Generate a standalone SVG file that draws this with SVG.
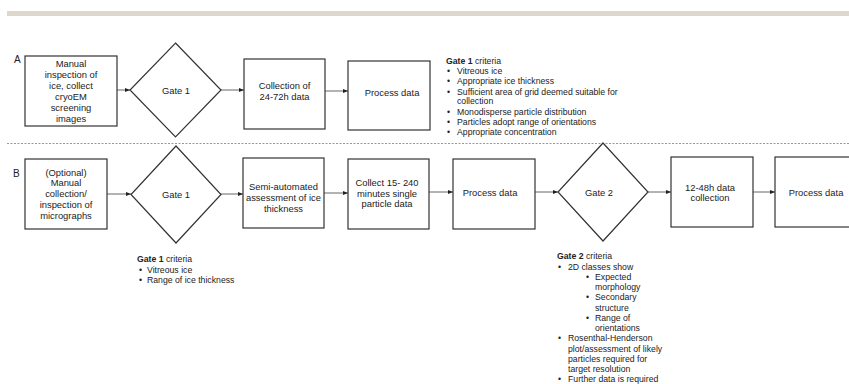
<svg xmlns="http://www.w3.org/2000/svg" width="849" height="384" viewBox="0 0 849 384">
<defs>
<marker id="ah" viewBox="0 0 6 6" refX="6" refY="3" markerWidth="5.5" markerHeight="5.5" markerUnits="userSpaceOnUse" orient="auto">
<path d="M0,0.5 L6,3 L0,5.5 Z" fill="#222"/>
</marker>
</defs>
<style>
text{font-family:"Liberation Sans",Arial,sans-serif;fill:#222}
.n{fill:#fff;stroke:#333;stroke-width:1.2}
.t{font-size:9.4px;text-anchor:middle}
.c{font-size:8.7px}
.b{font-weight:bold}
.e{stroke:#666;stroke-width:1;fill:none;marker-end:url(#ah)}
.lbl{font-size:10px}
</style>
<rect x="7" y="11" width="842" height="5" fill="#ddd8cb"/>
<line x1="7" y1="143.5" x2="849" y2="143.5" stroke="#999" stroke-width="1" stroke-dasharray="2,1.5"/>
<text class="lbl" x="14" y="63">A</text>
<text class="lbl" x="13" y="177">B</text>

<g id="connectors">
<line class="e" x1="117" y1="90" x2="130" y2="90"/>
<line class="e" x1="221" y1="90" x2="244" y2="90"/>
<line class="e" x1="325" y1="91" x2="348" y2="91"/>
<line class="e" x1="107" y1="194" x2="131" y2="194"/>
<line class="e" x1="221" y1="194" x2="243" y2="194"/>
<line class="e" x1="324" y1="193" x2="348" y2="193"/>
<line class="e" x1="429" y1="192" x2="453" y2="192"/>
<line class="e" x1="535" y1="192" x2="558" y2="192"/>
<line class="e" x1="648" y1="192" x2="671" y2="192"/>
<line class="e" x1="753" y1="192" x2="775" y2="192"/>
</g>

<g id="a1">
<rect class="n" x="25" y="56" width="92" height="70"/>
<text class="t" x="71" y="66.5">Manual</text>
<text class="t" x="71" y="78">inspection of</text>
<text class="t" x="71" y="89">ice, collect</text>
<text class="t" x="71" y="100">cryoEM</text>
<text class="t" x="71" y="111">screening</text>
<text class="t" x="71" y="122">images</text>
</g>
<g id="a_gate1">
<polygon class="n" points="175.5,43 221,90 175.5,137 130,90"/>
<text class="t" x="176" y="93.5">Gate 1</text>
</g>
<g id="a2">
<rect class="n" x="244" y="59" width="81" height="70"/>
<text class="t" x="284.5" y="88.5">Collection of</text>
<text class="t" x="284.5" y="100">24-72h data</text>
</g>
<g id="a3">
<rect class="n" x="348" y="61" width="82" height="69"/>
<text class="t" x="392" y="96">Process data</text>
</g>
<g id="a_criteria">
<text class="c" x="446" y="64"><tspan class="b">Gate 1</tspan> criteria</text>
<text class="c" x="447" y="74">•<tspan x="457">Vitreous ice</tspan></text>
<text class="c" x="447" y="84">•<tspan x="457">Appropriate ice thickness</tspan></text>
<text class="c" x="447" y="94.5">•<tspan x="457">Sufficient area of grid deemed suitable for</tspan></text>
<text class="c" x="457" y="104">collection</text>
<text class="c" x="447" y="114.5">•<tspan x="457">Monodisperse particle distribution</tspan></text>
<text class="c" x="447" y="124.5">•<tspan x="457">Particles adopt range of orientations</tspan></text>
<text class="c" x="447" y="135">•<tspan x="457">Appropriate concentration</tspan></text>
</g>

<g id="b1">
<rect class="n" x="25" y="159" width="82" height="70"/>
<text class="t" x="66" y="175.5">(Optional)</text>
<text class="t" x="66" y="186">Manual</text>
<text class="t" x="66" y="196.5">collection/</text>
<text class="t" x="66" y="207.5">inspection of</text>
<text class="t" x="66" y="218.5">micrographs</text>
</g>
<g id="b_gate1">
<polygon class="n" points="176,146 221,194.5 176,243 131,194.5"/>
<text class="t" x="176" y="198">Gate 1</text>
</g>
<g id="b2">
<rect class="n" x="243" y="158" width="81" height="70"/>
<text class="t" x="283.5" y="189.5">Semi-automated</text>
<text class="t" x="283.5" y="200.5">assessment of ice</text>
<text class="t" x="283.5" y="211.5">thickness</text>
</g>
<g id="b3">
<rect class="n" x="348" y="159" width="81" height="70"/>
<text class="t" x="387" y="185.5">Collect 15- 240</text>
<text class="t" x="387" y="196.5">minutes single</text>
<text class="t" x="387" y="206.5">particle data</text>
</g>
<g id="b4">
<rect class="n" x="453" y="159" width="82" height="70"/>
<text class="t" x="490" y="195.5">Process data</text>
</g>
<g id="b_gate2">
<polygon class="n" points="603,143 648,192 603,241 558,192"/>
<text class="t" x="599" y="195.5">Gate 2</text>
</g>
<g id="b5">
<rect class="n" x="671" y="157" width="82" height="70"/>
<text class="t" x="710" y="190.5">12-48h data</text>
<text class="t" x="710" y="200.5">collection</text>
</g>
<g id="b6">
<rect class="n" x="775" y="157" width="82" height="70"/>
<text class="t" x="816" y="195.5">Process data</text>
</g>
<g id="b_gate1_criteria">
<text class="c" x="137" y="262"><tspan class="b">Gate 1</tspan> criteria</text>
<text class="c" x="139" y="273">•<tspan x="147">Vitreous ice</tspan></text>
<text class="c" x="139" y="283">•<tspan x="147">Range of ice thickness</tspan></text>
</g>
<g id="b_gate2_criteria">
<text class="c" x="557" y="259"><tspan class="b">Gate 2</tspan> criteria</text>
<text class="c" x="558" y="270">•<tspan x="568">2D classes show</tspan></text>
<text class="c" x="586" y="280">•<tspan x="595">Expected</tspan></text>
<text class="c" x="595" y="290">morphology</text>
<text class="c" x="586" y="300">•<tspan x="595">Secondary</tspan></text>
<text class="c" x="595" y="311">structure</text>
<text class="c" x="586" y="321">•<tspan x="595">Range of</tspan></text>
<text class="c" x="595" y="331">orientations</text>
<text class="c" x="558" y="341">•<tspan x="568">Rosenthal-Henderson</tspan></text>
<text class="c" x="568" y="352">plot/assessment of likely</text>
<text class="c" x="568" y="362">particles required for</text>
<text class="c" x="568" y="372">target resolution</text>
<text class="c" x="558" y="382">•<tspan x="568">Further data is required</tspan></text>
</g>
</svg>
